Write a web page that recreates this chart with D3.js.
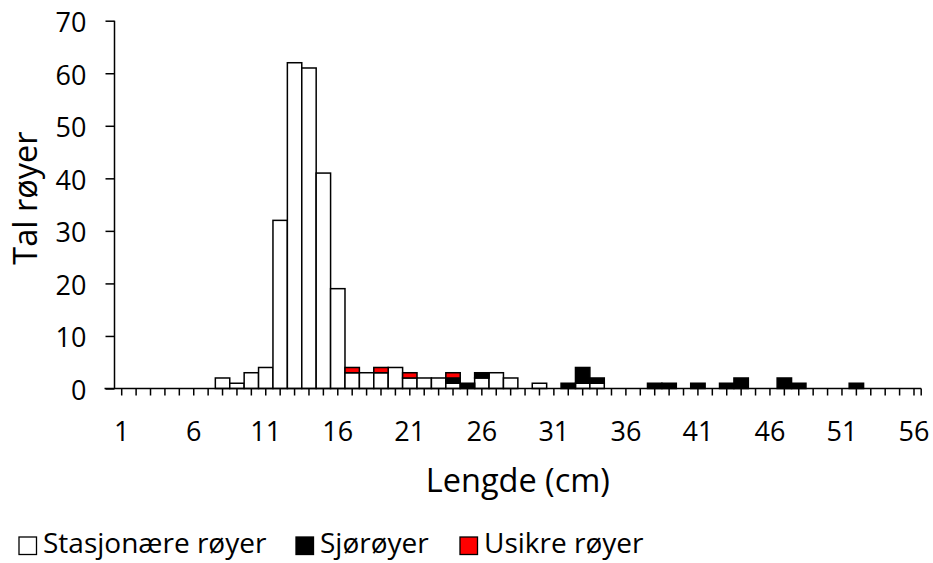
<!DOCTYPE html>
<html>
<head>
<meta charset="utf-8">
<script src="https://cdn.jsdelivr.net/npm/d3@7"></script>
<style>
  html, body { margin: 0; padding: 0; background: #fff; }
  svg { display: block; }
  text { font-family: "Open Sans", sans-serif; fill: #000; }
</style>
</head>
<body>
<svg id="chart" width="933" height="563"></svg>
<script>
// ---- data ----
const categories = [1,2,3,4,5,6,7,8,9,10,11,12,13,14,15,16,17,18,19,20,21,22,23,24,25,26,27,28,
                    29,30,31,32,33,34,35,36,37,38,39,40,41,42,43,44,45,46,47,48,49,50,51,52,53,54,55,56];
const stationary = [0,0,0,0,0,0,0,2,1,3,4,32,62,61,41,19,3,3,3,4,2,2,2,1,0,2,3,2,
                    0,1,0,0,1,1,0,0,0,0,0,0,0,0,0,0,0,0,0,0,0,0,0,0,0,0,0,0];
const seaRun = [0,0,0,0,0,0,0,0,0,0,0,0,0,0,0,0,0,0,0,0,0,0,0,1,1,1,0,0,
                0,0,0,1,3,1,0,0,0,1,1,0,1,0,1,2,0,0,2,1,0,0,0,1,0,0,0,0];
const uncertain = [0,0,0,0,0,0,0,0,0,0,0,0,0,0,0,0,1,0,1,0,1,0,0,1,0,0,0,0,
                   0,0,0,0,0,0,0,0,0,0,0,0,0,0,0,0,0,0,0,0,0,0,0,0,0,0,0,0];
const seriesNames = ["Stasjonære røyer", "Sjørøyer", "Usikre røyer"];
const seriesColors = ["#ffffff", "#000000", "#ff0000"];
const xTickLabels = [1, 6, 11, 16, 21, 26, 31, 36, 41, 46, 51, 56];
const yTicks = [0, 10, 20, 30, 40, 50, 60, 70];
const xTitle = "Lengde (cm)";
const yTitle = "Tal røyer";

// ---- layout ----
const svg = d3.select("#chart");
const pLeft = 114.5, pRight = 921.2, pTop = 20.7, pBottom = 388.5;

const x = d3.scaleBand().domain(categories).range([pLeft, pRight]).padding(0);
const y = d3.scaleLinear().domain([0, 70]).range([pBottom, pTop]);

const rows = categories.map((c, i) => ({cat: c, s0: stationary[i], s1: seaRun[i], s2: uncertain[i]}));
const stack = d3.stack().keys(["s0", "s1", "s2"])(rows);

// bars
const g = svg.append("g");
stack.forEach((layer, si) => {
  g.selectAll(null)
    .data(layer.filter(d => d[1] - d[0] > 0))
    .join("rect")
    .attr("x", d => x(d.data.cat))
    .attr("width", x.bandwidth())
    .attr("y", d => y(d[1]))
    .attr("height", d => y(d[0]) - y(d[1]))
    .attr("fill", seriesColors[si])
    .attr("stroke", "#000")
    .attr("stroke-width", 1.5);
});

// x axis
const xAxis = d3.axisBottom(x)
  .tickValues(categories)
  .tickSize(7)
  .tickFormat(d => xTickLabels.includes(d) ? String(d) : "");
const gx = svg.append("g").attr("transform", `translate(0,${pBottom})`).call(xAxis);
gx.select(".domain").remove();
gx.append("line").attr("x1", pLeft - 10).attr("x2", pRight).attr("y1", 0).attr("y2", 0)
  .attr("stroke", "#000").attr("stroke-width", 1.5);
gx.append("line").attr("x1", pRight).attr("x2", pRight).attr("y1", 0).attr("y2", 7)
  .attr("stroke", "#000").attr("stroke-width", 1.5);
gx.selectAll(".tick line").attr("stroke", "#000").attr("stroke-width", 1.5);
gx.selectAll(".tick text").attr("font-size", 27).attr("font-family", "Open Sans").attr("fill", "#000")
  .attr("y", 52.5).attr("dy", 0);

// y axis
const yAxis = d3.axisLeft(y).tickValues(yTicks).tickSize(9);
const gy = svg.append("g").attr("transform", `translate(${pLeft},0)`).call(yAxis);
gy.select(".domain").remove();
gy.append("line").attr("x1", 0).attr("x2", 0).attr("y1", pTop).attr("y2", pBottom)
  .attr("stroke", "#000").attr("stroke-width", 1.5);
gy.selectAll(".tick line").attr("stroke", "#000").attr("stroke-width", 1.5);
gy.selectAll(".tick text").attr("font-size", 27).attr("font-family", "Open Sans").attr("fill", "#000")
  .attr("x", -28).attr("dy", 11);

// titles
svg.append("text").attr("x", (pLeft + pRight) / 2).attr("y", 492.3)
  .attr("text-anchor", "middle").attr("font-size", 32.5).text(xTitle);
svg.append("text").attr("transform", `translate(37,198) rotate(-90)`)
  .attr("text-anchor", "middle").attr("font-size", 32.5).text(yTitle);

// legend
const legendX = [19, 296, 460];
const lg = svg.append("g");
seriesNames.forEach((name, i) => {
  lg.append("rect").attr("x", legendX[i]).attr("y", 537).attr("width", 17.5).attr("height", 17.5)
    .attr("fill", seriesColors[i]).attr("stroke", "#000").attr("stroke-width", 1.3);
  lg.append("text").attr("x", legendX[i] + 24).attr("y", 553.3).attr("font-size", 28).text(name);
});
</script>
</body>
</html>
